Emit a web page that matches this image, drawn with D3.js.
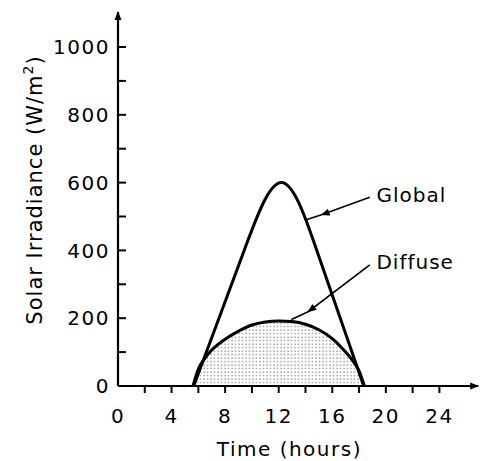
<!DOCTYPE html>
<html>
<head>
<meta charset="utf-8">
<script src="https://cdn.jsdelivr.net/npm/d3@7"></script>
<style>
  body { margin: 0; background: #fff; }
  text { font-family: "DejaVu Sans", sans-serif; fill: #000; }
</style>
</head>
<body>
<div id="chart"></div>
<script>
// hours of day vs irradiance (W/m2); global is drawn as a B-spline through these control points
const globalHours = [5.65, 7.5, 9.5, 12.23, 14.8, 16.6, 18.35];
const globalValues = [0, 196, 408, 697, 405, 200, 0];
const diffuseHours = [5.6, 6, 6.5, 7, 8, 9, 10, 11, 12, 13, 14, 15, 16, 17, 17.5, 18, 18.4];
const diffuseValues = [0, 50, 82, 106, 138, 162, 180, 189, 192, 190, 182, 166, 140, 100, 76, 45, 0];
const yTicks = [0, 200, 400, 600, 800, 1000];
const yMinorTicks = [100, 300, 500, 700, 900];
const xTicks = [0, 4, 8, 12, 16, 20, 24];
const xMinorTicks = [2, 6, 10, 14, 18, 22];

const width = 480, height = 461;

const svg = d3.select("#chart")
    .append("svg")
    .attr("width", width)
    .attr("height", height);

const x = d3.scaleLinear().domain([0, 24]).range([118, 439.4]);
const y = d3.scaleLinear().domain([0, 1000]).range([386, 47]);

// stipple pattern for the diffuse area
const defs = svg.append("defs");
const pat = defs.append("pattern")
    .attr("id", "stipple")
    .attr("width", 3.5).attr("height", 3.5)
    .attr("patternUnits", "userSpaceOnUse");
pat.append("circle").attr("cx", 1).attr("cy", 1).attr("r", 0.65).attr("fill", "#555");

defs.append("marker")
    .attr("id", "head")
    .attr("viewBox", "0 0 10 10")
    .attr("refX", 9).attr("refY", 5)
    .attr("markerWidth", 9).attr("markerHeight", 9)
    .attr("markerUnits", "userSpaceOnUse")
    .attr("orient", "auto")
    .append("path").attr("d", "M0,1 L10,5 L0,9 Z").attr("fill", "#000");

const globalData = globalHours.map((h, i) => ({ h: h, v: globalValues[i] }));
const diffuseData = diffuseHours.map((h, i) => ({ h: h, v: diffuseValues[i] }));

// shaded diffuse area
const area = d3.area()
    .x(d => x(d.h))
    .y0(y(0))
    .y1(d => y(d.v))
    .curve(d3.curveMonotoneX);
svg.append("path")
    .attr("d", area(diffuseData))
    .attr("fill", "url(#stipple)");

const line = d3.line()
    .x(d => x(d.h))
    .y(d => y(d.v));

svg.append("path")
    .attr("d", line.curve(d3.curveBasis)(globalData))
    .attr("fill", "none")
    .attr("stroke", "#000")
    .attr("stroke-width", 3);

svg.append("path")
    .attr("d", line.curve(d3.curveMonotoneX)(diffuseData))
    .attr("fill", "none")
    .attr("stroke", "#000")
    .attr("stroke-width", 3);

// axes
svg.append("line")
    .attr("x1", x(0)).attr("x2", x(0))
    .attr("y1", y(0)).attr("y2", y(1103))
    .attr("stroke", "#000").attr("stroke-width", 2.2)
    .attr("marker-end", "url(#head)");
svg.append("line")
    .attr("x1", x(0)).attr("x2", x(26.9))
    .attr("y1", y(0)).attr("y2", y(0))
    .attr("stroke", "#000").attr("stroke-width", 2.2)
    .attr("marker-end", "url(#head)");

svg.selectAll(".ytick")
    .data(yTicks.concat(yMinorTicks).filter(d => d > 0))
    .join("line")
    .attr("x1", x(0)).attr("x2", x(0) + 8)
    .attr("y1", d => y(d)).attr("y2", d => y(d))
    .attr("stroke", "#000").attr("stroke-width", 2);

svg.selectAll(".xtick")
    .data(xTicks.concat(xMinorTicks).filter(d => d > 0))
    .join("line")
    .attr("x1", d => x(d)).attr("x2", d => x(d))
    .attr("y1", y(0)).attr("y2", y(0) + 7)
    .attr("stroke", "#000").attr("stroke-width", 2);

svg.selectAll(".ylab")
    .data(yTicks)
    .join("text")
    .attr("x", x(0) - 8)
    .attr("y", d => y(d))
    .attr("dy", "0.36em")
    .attr("text-anchor", "end")
    .attr("font-size", 20)
    .attr("letter-spacing", 1.5)
    .text(d => d);

svg.selectAll(".xlab")
    .data(xTicks)
    .join("text")
    .attr("x", d => x(d))
    .attr("y", 423)
    .attr("text-anchor", "middle")
    .attr("font-size", 20)
    .attr("letter-spacing", 1.5)
    .text(d => d);

// axis titles
svg.append("text")
    .attr("x", x(12.8))
    .attr("y", 456)
    .attr("text-anchor", "middle")
    .attr("font-size", 20)
    .attr("letter-spacing", 1.5)
    .text("Time (hours)");

const ylabel = svg.append("text")
    .attr("transform", `translate(42,190) rotate(-90)`)
    .attr("text-anchor", "middle")
    .attr("font-size", 21)
    .attr("letter-spacing", 1);
ylabel.append("tspan").text("Solar Irradiance (W/m");
ylabel.append("tspan").attr("font-size", 14).attr("dy", -9).text("2");
ylabel.append("tspan").attr("dy", 9).text(")");

// annotations
const notes = [
    { label: "Global", lx: 19.3, lv: 563, sx: 18.8, sv: 557, ax: 15.2, av: 505, ex: 14.0, ev: 490 },
    { label: "Diffuse", lx: 19.3, lv: 366, sx: 18.8, sv: 357, ax: 14.2, av: 219, ex: 12.95, ev: 196 }
];
notes.forEach(n => {
    svg.append("line")
        .attr("x1", x(n.sx)).attr("y1", y(n.sv))
        .attr("x2", x(n.ax)).attr("y2", y(n.av))
        .attr("stroke", "#000").attr("stroke-width", 1.6)
        .attr("marker-end", "url(#head)");
    svg.append("line")
        .attr("x1", x(n.ax)).attr("y1", y(n.av))
        .attr("x2", x(n.ex)).attr("y2", y(n.ev))
        .attr("stroke", "#000").attr("stroke-width", 1.6);
    svg.append("text")
        .attr("x", x(n.lx))
        .attr("y", y(n.lv))
        .attr("dy", "0.36em")
        .attr("font-size", 20)
        .attr("letter-spacing", 1)
        .text(n.label);
});
</script>
</body>
</html>
